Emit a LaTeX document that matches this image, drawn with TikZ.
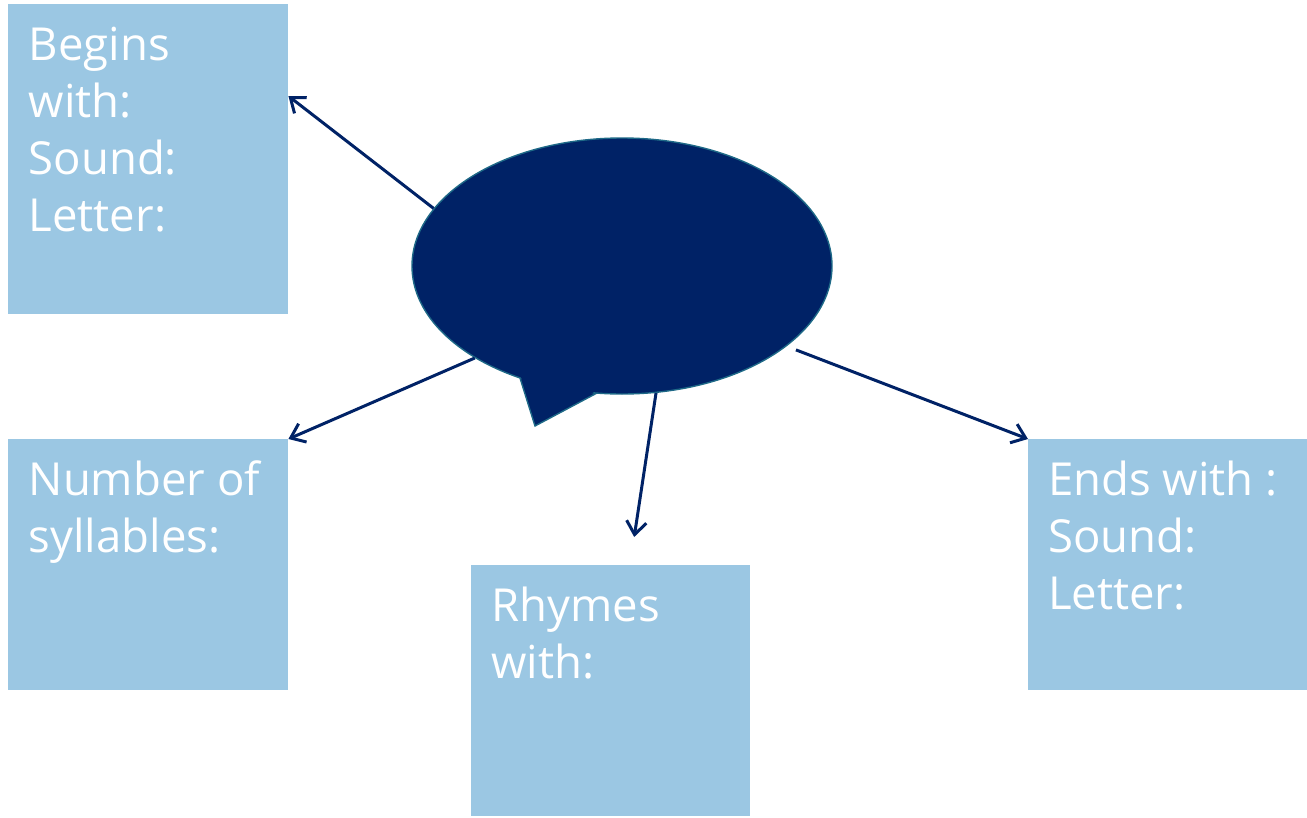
\documentclass[tikz,border=0pt]{standalone}
\usepackage{fontspec}
\setmainfont{Open Sans}
\usetikzlibrary{arrows.meta,calc,shapes.geometric}
\definecolor{boxblue}{RGB}{155,199,227}
\definecolor{navy}{RGB}{0,34,102}
\definecolor{rimteal}{RGB}{30,105,135}
\newcommand{\bxt}[3]{\parbox[t][#1pt][t]{#2pt}{\fontsize{45.5pt}{57pt}\selectfont\rule{0pt}{56pt}#3}}
\begin{document}
\begin{tikzpicture}[x=1pt,y=-1pt,
  box/.style={fill=boxblue, inner ysep=0pt, inner xsep=20.5pt, text=white, anchor=north west, align=left},
  arr/.style={draw=navy, line width=3pt, -{Straight Barb[length=13pt,width=20pt,line width=3pt]}},
  bubble/.style={ellipse, fill=navy, draw=rimteal, line width=1.4pt, minimum width=420pt, minimum height=256pt, inner sep=0pt}
]
\useasboundingbox (0,0) rectangle (1307,817);
% boxes
\node[box] (b1) at (8,4) {\bxt{310}{239}{Begins\\with:\\Sound:\\Letter:}};
\node[box] (b2) at (8,439) {\bxt{251}{239}{Number of\\syllables:}};
\node[box, inner xsep=20pt] (b3) at (471,565) {\bxt{251}{239}{Rhymes\\with:}};
\node[box, inner xsep=20pt] (b4) at (1028,439) {\bxt{251}{239}{Ends with :\\Sound:\\Letter:}};
% speech bubble
\fill[navy, draw=rimteal, line width=1.4pt] (520,378) -- (535,426) -- (597,393) -- cycle;
\node[bubble] (ell) at (622,266) {};
\fill[navy] (521,377) -- (535.5,423.5) -- (595,391.5) -- (590,370) -- (525,365) -- cycle;
% connectors
\draw[arr] (ell.163.3) -- ([yshift=-92pt]b1.north east);
\draw[arr] (ell.212.2) -- (b2.north east);
\draw[arr] (ell.285.3) -- ([xshift=23.5pt,yshift=28pt]b3.north);
\draw[arr, shorten <=10pt] (ell.334.5) -- (b4.north west);
\end{tikzpicture}
\end{document}
